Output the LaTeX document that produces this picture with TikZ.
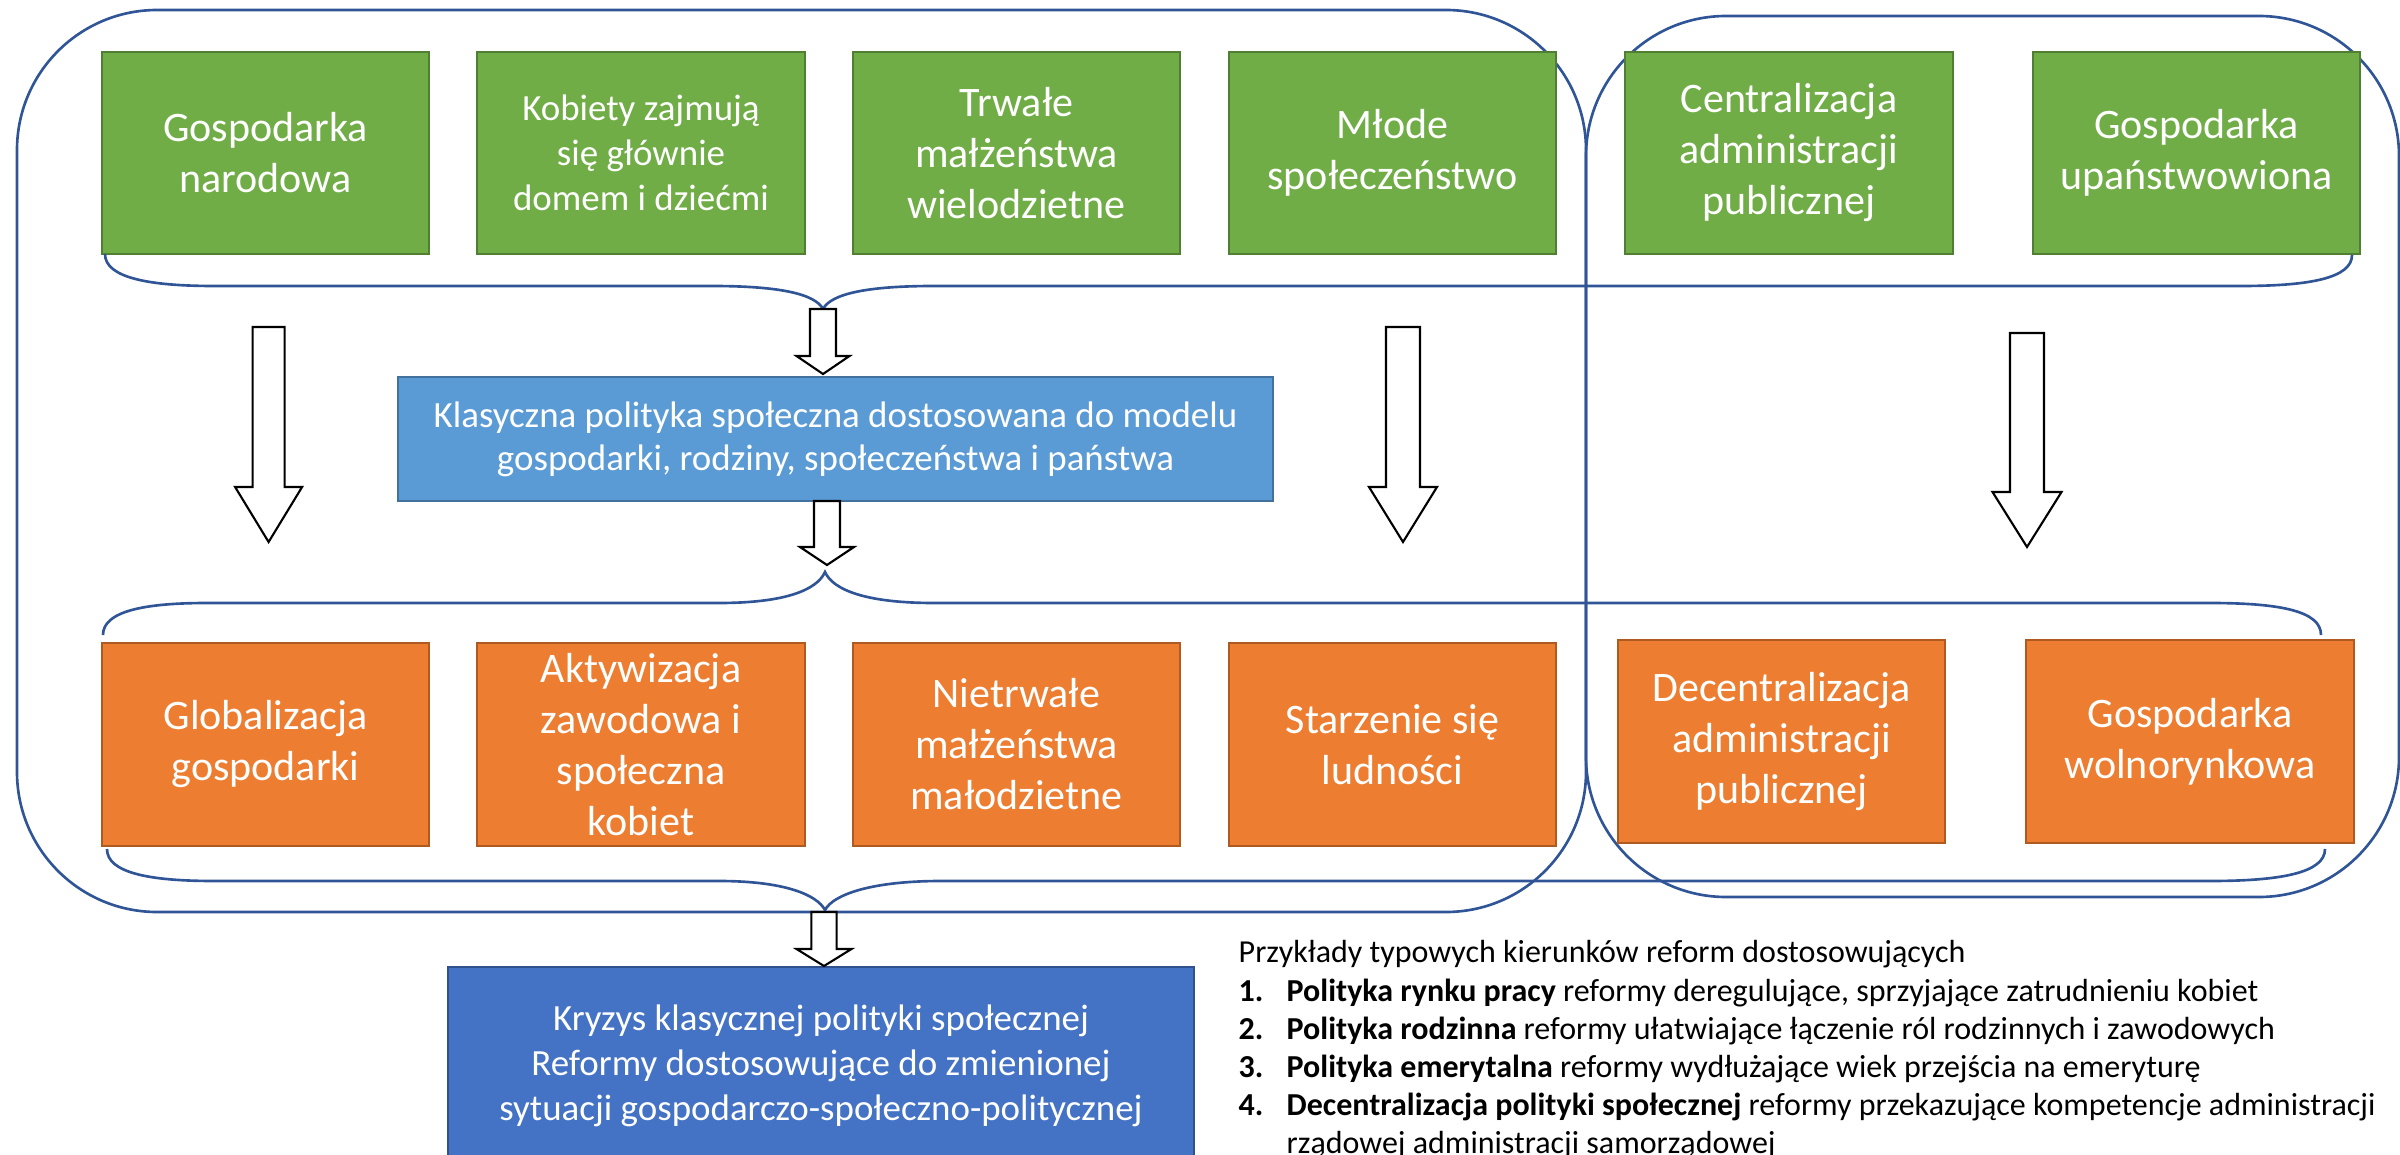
\documentclass[tikz,border=0pt]{standalone}
\usepackage{fontspec}
\setmainfont{Carlito}
\definecolor{gfill}{HTML}{70AD47}
\definecolor{gline}{HTML}{507E32}
\definecolor{ofill}{HTML}{ED7D31}
\definecolor{oline}{HTML}{AE5A21}
\definecolor{bfill}{HTML}{5B9BD5}
\definecolor{bline}{HTML}{41719C}
\definecolor{dfill}{HTML}{4472C4}
\definecolor{dline}{HTML}{2F528F}
\definecolor{bracecol}{HTML}{2F5597}
\newcommand\blkarrow[6]{%
  \draw[blockarr] ({#1-#5},#2) -- ({#1+#5},#2) -- ({#1+#5},#3) -- ({#1+#6},#3) -- (#1,#4) -- ({#1-#6},#3) -- ({#1-#5},#3) -- cycle;}
\tikzset{
  boxbase/.style={draw, line width=0.6pt, text=white, align=center, inner sep=0pt,
    minimum width=3.27cm, minimum height=2.02cm, font=\fontsize{11.95pt}{14.5pt}\selectfont},
  gbox/.style={boxbase, fill=gfill, draw=gline},
  obox/.style={boxbase, fill=ofill, draw=oline},
  bracel/.style={draw=bracecol, line width=0.75pt},
  blockarr/.style={draw=black, fill=white, line width=0.6pt, line join=miter},
  listtxt/.style={anchor=base west, inner sep=0pt, font=\fontsize{9.1pt}{10.9pt}\selectfont}
}
\begin{document}
\begin{tikzpicture}[x=0.01cm, y=-0.01cm]
\useasboundingbox (0,0) rectangle (2400,1155);
% big rounded frames
\draw[bracel, rounded corners=1.4cm] (17,10) rectangle (1586,912);
\draw[bracel, rounded corners=1.4cm] (1586,16) rectangle (2399,897);
% green row
\node[gbox] (g1) at (265.5,153) {Gospodarka\\narodowa};
\node[gbox, font=\fontsize{10.5pt}{12.8pt}\selectfont] (g2) at (641,153) {Kobiety zajmują\\się głównie\\domem i dziećmi};
\node[gbox] (g3) at (1016.5,153) {Trwałe\\małżeństwa\\wielodzietne};
\node[gbox] (g4) at (1392.5,153) {Młode\\społeczeństwo};
\node[gbox] (g5) at (1789,153) {Centralizacja\\administracji\\publicznej};
\node[gbox] (g6) at (2196.5,153) {Gospodarka\\upaństwowiona};
% orange row
\node[obox] (o1) at (265.5,744.5) {Globalizacja\\gospodarki};
\node[obox] (o2) at (641,744.5) {Aktywizacja\\zawodowa i\\społeczna\\kobiet};
\node[obox] (o3) at (1016.5,744.5) {Nietrwałe\\małżeństwa\\małodzietne};
\node[obox] (o4) at (1392.5,744.5) {Starzenie się\\ludności};
\node[obox] (o5) at (1781.5,741.5) {Decentralizacja\\administracji\\publicznej};
\node[obox] (o6) at (2190,741.5) {Gospodarka\\wolnorynkowa};
% braces
\draw[bracel] (105,254) .. controls (105,278) and (150,286) .. (214,286) -- (712,286)
  .. controls (780,286) and (815,294) .. (823,309)
  .. controls (831,294) and (866,286) .. (934,286) -- (2241,286)
  .. controls (2310,286) and (2352,278) .. (2352,255);
\draw[bracel] (103,635) .. controls (103,611) and (145,603) .. (207,603) -- (719,603)
  .. controls (785,603) and (817,590) .. (825,572)
  .. controls (833,590) and (866,603) .. (934,603) -- (2210,603)
  .. controls (2280,603) and (2321,611) .. (2321,635);
\draw[bracel] (107,849) .. controls (107,873) and (150,881) .. (214,881) -- (719,881)
  .. controls (785,881) and (817,895) .. (825,910)
  .. controls (833,895) and (870,881) .. (941,881) -- (2210,881)
  .. controls (2280,881) and (2325,873) .. (2325,849);
% blue boxes
\node[draw=bline, fill=bfill, line width=0.6pt, text=white, align=center, inner sep=0pt,
  minimum width=8.75cm, minimum height=1.24cm, font=\fontsize{10.5pt}{12.2pt}\selectfont]
  (klas) at (835.5,439) {Klasyczna polityka społeczna dostosowana do modelu\\gospodarki, rodziny, społeczeństwa i państwa};
\node[draw=dline, fill=dfill, line width=0.6pt, text=white, align=center, inner sep=0pt,
  minimum width=7.46cm, minimum height=1.98cm, font=\fontsize{10.5pt}{12.8pt}\selectfont]
  (kryz) at (821,1066) {Kryzys klasycznej polityki społecznej\\Reformy dostosowujące do zmienionej\\sytuacji gospodarczo-społeczno-politycznej};
% block arrows
\blkarrow{823}{309}{356}{374}{13}{26.5}
\blkarrow{827}{501}{547}{565}{13}{27}
\blkarrow{268.6}{327}{487}{542}{16}{33.5}
\blkarrow{1403}{327}{487}{542}{17}{34}
\blkarrow{2027}{333}{492}{547}{17}{34.5}
\blkarrow{824}{912}{949}{966}{12.6}{27.5}
% list
\node[listtxt] (t0) at (1238,962) {Przykłady typowych kierunków reform dostosowujących};
\node[listtxt] (n1) at (1238,1001) {\textbf{1.}};
\node[listtxt] (l1) at (1286,1001) {\textbf{Polityka rynku pracy} reformy deregulujące, sprzyjające zatrudnieniu kobiet};
\node[listtxt] (n2) at (1238,1039) {\textbf{2.}};
\node[listtxt] (l2) at (1286,1039) {\textbf{Polityka rodzinna} reformy ułatwiające łączenie ról rodzinnych i zawodowych};
\node[listtxt] (n3) at (1238,1077) {\textbf{3.}};
\node[listtxt] (l3) at (1286,1077) {\textbf{Polityka emerytalna} reformy wydłużające wiek przejścia na emeryturę};
\node[listtxt] (n4) at (1238,1115) {\textbf{4.}};
\node[listtxt] (l4) at (1286,1115) {\textbf{Decentralizacja polityki społecznej} reformy przekazujące kompetencje administracji};
\node[listtxt] (l5) at (1286,1153) {rządowej administracji samorządowej};
\end{tikzpicture}
\end{document}
